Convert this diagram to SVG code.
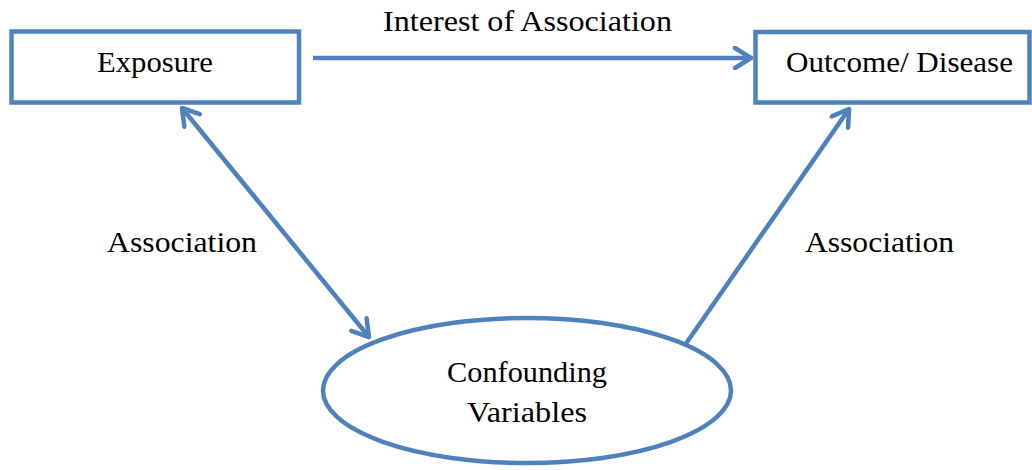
<svg xmlns="http://www.w3.org/2000/svg" width="1032" height="470" viewBox="0 0 1032 470">
<style>
.box{fill:#fff;stroke:#4F81BD;stroke-width:4.5}
.lbl{font-family:"Liberation Serif","Times New Roman",serif;font-size:30px;fill:#000;text-anchor:middle}
.nt{font-family:"Liberation Serif","Times New Roman",serif;font-size:29px;fill:#000;text-anchor:middle}
.con{fill:none;stroke:#4F81BD;stroke-width:4.5}
</style>
<defs>
<marker id="ah" viewBox="0 0 24 24" refX="20" refY="12" markerWidth="24" markerHeight="24" markerUnits="userSpaceOnUse" orient="auto-start-reverse">
<path d="M4,2 L20,12 L4,22" fill="none" stroke="#4F81BD" stroke-width="4.5" stroke-linecap="round" stroke-linejoin="round"/>
</marker>
</defs>
<rect width="1032" height="470" fill="#fff"/>
<g id="exposure">
<rect class="box" x="11.5" y="31.5" width="287.5" height="71"/>
<text class="nt" x="155" y="72" textLength="116" lengthAdjust="spacingAndGlyphs">Exposure</text>
</g>
<g id="outcome">
<rect class="box" x="755.5" y="32" width="274" height="70.5"/>
<text class="nt" x="899.5" y="72" textLength="227" lengthAdjust="spacingAndGlyphs">Outcome/ Disease</text>
</g>
<g id="confounding">
<ellipse class="box" cx="527" cy="390.5" rx="204" ry="72.5"/>
<text class="nt" x="527" y="382" textLength="160" lengthAdjust="spacingAndGlyphs">Confounding</text>
<text class="nt" x="527" y="422" textLength="120" lengthAdjust="spacingAndGlyphs">Variables</text>
</g>
<g id="connectors">
<line class="con" x1="313" y1="58" x2="751" y2="58" marker-end="url(#ah)"/>
<line class="con" x1="182" y1="108" x2="369" y2="337" marker-start="url(#ah)" marker-end="url(#ah)"/>
<line class="con" x1="685" y1="345" x2="849" y2="109" marker-end="url(#ah)"/>
</g>
<g id="labels">
<text class="lbl" x="527.5" y="31" textLength="289" lengthAdjust="spacingAndGlyphs">Interest of Association</text>
<text class="lbl" x="182" y="252" textLength="150" lengthAdjust="spacingAndGlyphs">Association</text>
<text class="lbl" x="879.5" y="252" textLength="149" lengthAdjust="spacingAndGlyphs">Association</text>
</g>
</svg>
